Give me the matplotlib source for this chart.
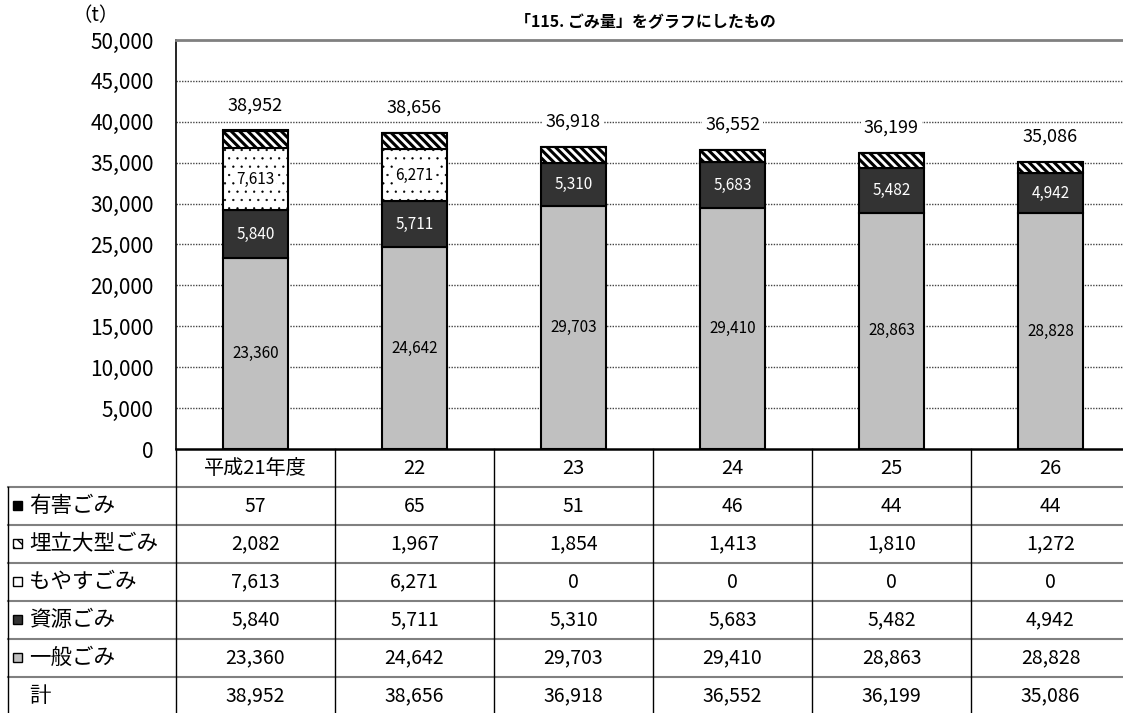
import matplotlib
matplotlib.use('Agg')
import matplotlib.pyplot as plt
from matplotlib.patches import Rectangle
from matplotlib.ticker import FuncFormatter
import numpy as np

plt.rcParams['font.family'] = ['Noto Sans CJK JP', 'DejaVu Sans']

years = ['平成21年度', '22', '23', '24', '25', '26']
series_names = ['有害ごみ', '埋立大型ごみ', 'もやすごみ', '資源ごみ', '一般ごみ']
yuugai = [57, 65, 51, 46, 44, 44]
umetate = [2082, 1967, 1854, 1413, 1810, 1272]
moyasu = [7613, 6271, 0, 0, 0, 0]
shigen = [5840, 5711, 5310, 5683, 5482, 4942]
ippan = [23360, 24642, 29703, 29410, 28863, 28828]
total = [38952, 38656, 36918, 36552, 36199, 35086]

W, H = 1123, 713
fig = plt.figure(figsize=(W / 100, H / 100), dpi=100)

# main chart, columns 159px wide, runs a bit past the right edge
ax = fig.add_axes([176 / W, (H - 449) / H, 954 / W, 409 / H])
x = np.arange(len(years))
bw = 0.41

# bottom to top: 一般, 資源, もやす, 埋立, 有害
b0 = np.zeros(len(years))
ax.bar(x, ippan, bw, bottom=b0, color='#c0c0c0', edgecolor='black', lw=1.5, zorder=3)
b1 = b0 + ippan
ax.bar(x, shigen, bw, bottom=b1, color='#333333', edgecolor='black', lw=1.5, zorder=3)
b2 = b1 + shigen
with plt.rc_context({'hatch.linewidth': 0.4, 'hatch.color': '#666666'}):
    ax.bar(x, moyasu, bw, bottom=b2, color='white', edgecolor='black', hatch='..', lw=1.5, zorder=3)
b3 = b2 + moyasu
with plt.rc_context({'hatch.linewidth': 2.2}):
    ax.bar(x, umetate, bw, bottom=b3, color='white', edgecolor='black',
           hatch='\\\\\\\\', lw=1.5, zorder=3)
b4 = b3 + umetate
ax.bar(x, yuugai, bw, bottom=b4, color='black', edgecolor='black', lw=1.5, zorder=3)

for i in range(len(years)):
    ax.text(x[i], b0[i] + ippan[i] / 2, f'{ippan[i]:,}', ha='center', va='center',
            fontsize=11, color='black', zorder=5)
    ax.text(x[i], b1[i] + shigen[i] / 2, f'{shigen[i]:,}', ha='center', va='center',
            fontsize=11, color='white', zorder=5)
    if moyasu[i] > 0:
        ax.text(x[i], b2[i] + moyasu[i] / 2, f'{moyasu[i]:,}', ha='center', va='center',
                fontsize=11, color='black', zorder=5,
                bbox=dict(facecolor='white', edgecolor='none', pad=1))
    ax.annotate(f'{total[i]:,}', (x[i], total[i]), xytext=(0, 18), textcoords='offset points',
                ha='center', va='center', fontsize=13,
                bbox=dict(facecolor='white', edgecolor='none', pad=2), zorder=5)

ax.set_xlim(-0.5, 5.5)
ax.set_ylim(0, 50000)
ax.set_yticks(range(0, 50001, 5000))
ax.yaxis.set_major_formatter(FuncFormatter(lambda v, p: f'{int(v):,}'))
ax.tick_params(axis='y', length=0, labelsize=15, pad=16)
ax.set_xticks([])
for v in range(5000, 50000, 5000):
    ax.axhline(v, color='#444444', lw=1, ls=(0, (1, 1)), zorder=1)
ax.spines['left'].set_color('black')
ax.spines['left'].set_linewidth(1.2)
ax.spines['bottom'].set_color('black')
ax.spines['bottom'].set_linewidth(1.8)
ax.spines['top'].set_color('#808080')
ax.spines['top'].set_linewidth(2)
ax.spines['right'].set_visible(False)

fig.text(96 / W, 1 - 16 / H, '（t）', ha='center', va='center', fontsize=14)
fig.text(645 / W, 1 - 21 / H, '「115. ごみ量」をグラフにしたもの', ha='center', va='center',
         fontsize=11.5, fontweight='bold')

# data table under the chart, in pixel coordinates
tax = fig.add_axes([0, 0, 1, 1])
tax.set_xlim(0, W)
tax.set_ylim(H, 0)
tax.axis('off')

row_h = 38
top = 449
col_w = 159
left_lbl = 8

for k in range(1, 7):
    yy = top + row_h * k
    tax.plot([left_lbl, W], [yy, yy], color='#808080', lw=1.5)
tax.plot([left_lbl, left_lbl], [top + row_h, H + 5], color='black', lw=1)
tax.plot([176, 176], [top, H + 5], color='black', lw=1)
for k in range(1, 6):
    xx = 176 + col_w * k
    tax.plot([xx, xx], [top, H + 5], color='black', lw=1)

rows = [yuugai, umetate, moyasu, shigen, ippan, total]
labels = series_names + ['計']
styles = [dict(fc='black', hatch=None), dict(fc='white', hatch='\\\\\\'),
          dict(fc='white', hatch='.'), dict(fc='#333333', hatch=None),
          dict(fc='#c0c0c0', hatch=None), None]

for i, name in enumerate(years):
    tax.text(176 + col_w * (i + 0.5), top + row_h / 2, name, ha='center', va='center', fontsize=14.5)

for r, (vals, lab, st) in enumerate(zip(rows, labels, styles)):
    cy = top + row_h * (r + 1.5)
    if st is not None:
        tax.add_patch(Rectangle((13, cy - 5), 9, 9, facecolor=st['fc'], edgecolor='black',
                                hatch=st['hatch'], lw=1))
    tax.text(29, cy, lab, ha='left', va='center', fontsize=15.5)
    for i, v in enumerate(vals):
        tax.text(176 + col_w * (i + 0.5), cy, f'{v:,}', ha='center', va='center', fontsize=14)

fig.savefig('out.png', dpi=100)
